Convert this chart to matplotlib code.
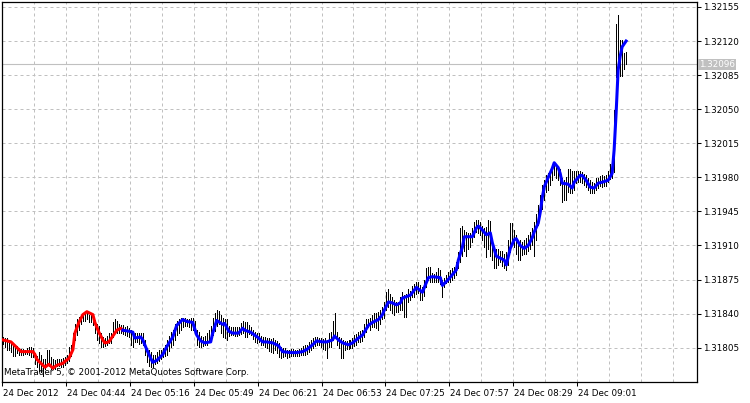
import matplotlib
matplotlib.use('Agg')
import matplotlib.pyplot as plt
import matplotlib.transforms as mtransforms
import numpy as np

# M1 bars, minutes counted from the first bar on screen (even and odd minutes)
even_min = np.arange(0, 313, 2)
even_high = [1.31816, 1.31815, 1.31811, 1.31808, 1.31805, 1.31804, 1.31805, 1.31806,
             1.31800, 1.31801, 1.31793, 1.31803, 1.31795, 1.31792, 1.31793, 1.31794,
             1.31798, 1.31808, 1.31829, 1.31837, 1.31841, 1.31842, 1.31840, 1.31833,
             1.31827, 1.31816, 1.31817, 1.31820, 1.31834, 1.31829, 1.31828, 1.31827,
             1.31823, 1.31820, 1.31820, 1.31820, 1.31805, 1.31801, 1.31798, 1.31803,
             1.31805, 1.31813, 1.31821, 1.31829, 1.31834, 1.31836, 1.31835, 1.31836,
             1.31832, 1.31821, 1.31816, 1.31820, 1.31827, 1.31841, 1.31843, 1.31836,
             1.31834, 1.31826, 1.31826, 1.31826, 1.31832, 1.31831, 1.31826, 1.31821,
             1.31820, 1.31816, 1.31815, 1.31814, 1.31813, 1.31810, 1.31805, 1.31803,
             1.31804, 1.31803, 1.31804, 1.31807, 1.31808, 1.31813, 1.31816, 1.31815,
             1.31814, 1.31813, 1.31821, 1.31841, 1.31816, 1.31813, 1.31812, 1.31813,
             1.31818, 1.31821, 1.31823, 1.31834, 1.31836, 1.31841, 1.31842, 1.31847,
             1.31862, 1.31860, 1.31854, 1.31852, 1.31862, 1.31860, 1.31863, 1.31870,
             1.31872, 1.31867, 1.31887, 1.31888, 1.31881, 1.31887, 1.31875, 1.31880,
             1.31885, 1.31888, 1.31903, 1.31930, 1.31924, 1.31923, 1.31934, 1.31936,
             1.31930, 1.31929, 1.31935, 1.31909, 1.31906, 1.31904, 1.31903, 1.31933,
             1.31926, 1.31916, 1.31914, 1.31918, 1.31924, 1.31934, 1.31952, 1.31972,
             1.31982, 1.31987, 1.31994, 1.31992, 1.31979, 1.31980, 1.31989, 1.31987,
             1.31987, 1.31985, 1.31982, 1.31977, 1.31974, 1.31979, 1.31982, 1.31982,
             1.31994, 1.32049, 1.32147, 1.32121, 1.32109]
even_low = [1.31809, 1.31803, 1.31801, 1.31796, 1.31798, 1.31798, 1.31799, 1.31795,
            1.31788, 1.31781, 1.31776, 1.31786, 1.31783, 1.31783, 1.31786, 1.31785,
            1.31789, 1.31796, 1.31813, 1.31823, 1.31832, 1.31834, 1.31831, 1.31820,
            1.31810, 1.31806, 1.31808, 1.31810, 1.31820, 1.31820, 1.31819, 1.31817,
            1.31808, 1.31811, 1.31809, 1.31808, 1.31790, 1.31785, 1.31788, 1.31791,
            1.31795, 1.31798, 1.31806, 1.31813, 1.31820, 1.31826, 1.31827, 1.31823,
            1.31820, 1.31806, 1.31807, 1.31808, 1.31813, 1.31822, 1.31829, 1.31816,
            1.31813, 1.31818, 1.31817, 1.31818, 1.31820, 1.31816, 1.31818, 1.31811,
            1.31811, 1.31808, 1.31805, 1.31801, 1.31803, 1.31795, 1.31795, 1.31794,
            1.31796, 1.31796, 1.31797, 1.31798, 1.31799, 1.31803, 1.31807, 1.31808,
            1.31804, 1.31794, 1.31806, 1.31816, 1.31805, 1.31794, 1.31804, 1.31805,
            1.31807, 1.31811, 1.31812, 1.31821, 1.31823, 1.31826, 1.31823, 1.31834,
            1.31844, 1.31844, 1.31839, 1.31842, 1.31844, 1.31837, 1.31854, 1.31857,
            1.31861, 1.31854, 1.31867, 1.31872, 1.31872, 1.31872, 1.31857, 1.31871,
            1.31872, 1.31877, 1.31887, 1.31899, 1.31899, 1.31908, 1.31919, 1.31923,
            1.31916, 1.31898, 1.31899, 1.31887, 1.31890, 1.31889, 1.31885, 1.31903,
            1.31908, 1.31895, 1.31900, 1.31901, 1.31906, 1.31899, 1.31931, 1.31947,
            1.31965, 1.31972, 1.31982, 1.31977, 1.31955, 1.31957, 1.31964, 1.31967,
            1.31975, 1.31974, 1.31970, 1.31964, 1.31964, 1.31969, 1.31970, 1.31971,
            1.31978, 1.31985, 1.32078, 1.32084, 1.32096]
odd_min = np.arange(1, 312, 2)
odd_high = [1.31815, 1.31813, 1.31810, 1.31807, 1.31804, 1.31803, 1.31806, 1.31805,
            1.31796, 1.31798, 1.31793, 1.31803, 1.31793, 1.31793, 1.31793, 1.31795,
            1.31806, 1.31820, 1.31834, 1.31839, 1.31841, 1.31839, 1.31838, 1.31829,
            1.31820, 1.31815, 1.31820, 1.31831, 1.31832, 1.31828, 1.31826, 1.31825,
            1.31821, 1.31820, 1.31820, 1.31813, 1.31803, 1.31798, 1.31801, 1.31803,
            1.31808, 1.31817, 1.31823, 1.31832, 1.31836, 1.31836, 1.31835, 1.31836,
            1.31823, 1.31817, 1.31817, 1.31823, 1.31836, 1.31844, 1.31839, 1.31834,
            1.31827, 1.31826, 1.31826, 1.31830, 1.31831, 1.31828, 1.31823, 1.31820,
            1.31817, 1.31816, 1.31815, 1.31815, 1.31812, 1.31806, 1.31805, 1.31803,
            1.31804, 1.31803, 1.31805, 1.31808, 1.31811, 1.31815, 1.31816, 1.31815,
            1.31815, 1.31820, 1.31832, 1.31821, 1.31815, 1.31812, 1.31813, 1.31815,
            1.31819, 1.31822, 1.31829, 1.31834, 1.31839, 1.31841, 1.31844, 1.31852,
            1.31865, 1.31857, 1.31852, 1.31857, 1.31859, 1.31865, 1.31868, 1.31873,
            1.31869, 1.31875, 1.31888, 1.31882, 1.31883, 1.31885, 1.31877, 1.31883,
            1.31887, 1.31893, 1.31928, 1.31926, 1.31923, 1.31928, 1.31936, 1.31934,
            1.31928, 1.31936, 1.31916, 1.31906, 1.31904, 1.31901, 1.31916, 1.31933,
            1.31921, 1.31916, 1.31916, 1.31921, 1.31928, 1.31942, 1.31962, 1.31977,
            1.31984, 1.31992, 1.31994, 1.31989, 1.31977, 1.31989, 1.31987, 1.31987,
            1.31987, 1.31983, 1.31979, 1.31975, 1.31979, 1.31981, 1.31981, 1.31987,
            1.31995, 1.32138, 1.32121, 1.32108]
odd_low = [1.31806, 1.31803, 1.31796, 1.31800, 1.31798, 1.31799, 1.31798, 1.31795,
           1.31785, 1.31780, 1.31783, 1.31786, 1.31783, 1.31786, 1.31785, 1.31787,
           1.31791, 1.31806, 1.31818, 1.31829, 1.31832, 1.31831, 1.31828, 1.31813,
           1.31806, 1.31807, 1.31810, 1.31816, 1.31820, 1.31820, 1.31818, 1.31816,
           1.31806, 1.31811, 1.31810, 1.31798, 1.31786, 1.31785, 1.31789, 1.31793,
           1.31796, 1.31802, 1.31808, 1.31818, 1.31823, 1.31827, 1.31826, 1.31823,
           1.31808, 1.31806, 1.31808, 1.31811, 1.31818, 1.31827, 1.31820, 1.31815,
           1.31817, 1.31818, 1.31817, 1.31819, 1.31816, 1.31819, 1.31814, 1.31810,
           1.31808, 1.31806, 1.31802, 1.31800, 1.31800, 1.31794, 1.31796, 1.31795,
           1.31797, 1.31797, 1.31798, 1.31798, 1.31801, 1.31805, 1.31808, 1.31806,
           1.31803, 1.31806, 1.31813, 1.31808, 1.31794, 1.31803, 1.31804, 1.31805,
           1.31808, 1.31811, 1.31816, 1.31826, 1.31826, 1.31825, 1.31829, 1.31836,
           1.31847, 1.31841, 1.31842, 1.31844, 1.31837, 1.31852, 1.31857, 1.31860,
           1.31854, 1.31858, 1.31875, 1.31872, 1.31873, 1.31870, 1.31867, 1.31873,
           1.31875, 1.31880, 1.31893, 1.31904, 1.31906, 1.31914, 1.31924, 1.31921,
           1.31908, 1.31906, 1.31895, 1.31887, 1.31893, 1.31887, 1.31890, 1.31911,
           1.31901, 1.31895, 1.31901, 1.31904, 1.31911, 1.31916, 1.31940, 1.31957,
           1.31967, 1.31977, 1.31979, 1.31972, 1.31957, 1.31965, 1.31964, 1.31974,
           1.31975, 1.31972, 1.31967, 1.31964, 1.31967, 1.31971, 1.31971, 1.31975,
           1.31979, 1.32083, 1.32084, 1.32091]

# indicator line (read at uneven points), red before the switch, blue after
line_min = [0, 4, 5, 8, 9, 15, 16, 17, 20, 21, 23, 25, 27, 30, 31, 33, 35, 36, 38, 40,
            42, 45, 46, 48, 50, 51, 53, 55, 57, 59, 60, 63, 65, 66, 69, 70, 72, 74, 75, 77,
            80, 82, 85, 87, 90, 92, 95, 97, 99, 101, 104, 105, 107, 110, 111, 113, 115, 118,
            120, 121, 124, 126, 128, 130, 132, 135, 138, 140, 144, 147, 150, 152, 155, 157,
            160, 162, 165, 166, 168, 170, 173, 175, 178, 180, 183, 185, 188, 190, 191, 193,
            195, 197, 199, 200, 204, 207, 210, 211, 213, 215, 219, 220, 222, 225, 227, 228,
            230, 231, 233, 235, 237, 238, 240, 242, 244, 245, 247, 249, 251, 252, 254, 256,
            257, 259, 261, 263, 265, 266, 268, 269, 270, 271, 273, 275, 276, 278, 279, 280,
            283, 285, 286, 289, 290, 292, 294, 296, 298, 300, 303, 305, 306, 307, 308, 309,
            310, 312]
line_val = [1.31813, 1.31811, 1.31809, 1.31803, 1.31801, 1.31801, 1.31798, 1.31793,
            1.31787, 1.31785, 1.31788, 1.31784, 1.31787, 1.31789, 1.31791, 1.31794,
            1.31803, 1.31820, 1.31831, 1.31839, 1.31842, 1.31839, 1.31831, 1.31821,
            1.31813, 1.31810, 1.31811, 1.31817, 1.31823, 1.31825, 1.31823, 1.31822,
            1.31821, 1.31815, 1.31816, 1.31813, 1.31803, 1.31794, 1.31790, 1.31792,
            1.31798, 1.31806, 1.31816, 1.31828, 1.31834, 1.31832, 1.31831, 1.31818,
            1.31812, 1.31810, 1.31811, 1.31820, 1.31833, 1.31829, 1.31830, 1.31822,
            1.31820, 1.31820, 1.31825, 1.31823, 1.31821, 1.31818, 1.31815, 1.31811,
            1.31811, 1.31810, 1.31807, 1.31801, 1.31800, 1.31800, 1.31801, 1.31803,
            1.31808, 1.31812, 1.31811, 1.31811, 1.31813, 1.31817, 1.31813, 1.31810,
            1.31808, 1.31810, 1.31815, 1.31818, 1.31828, 1.31831, 1.31834, 1.31839,
            1.31844, 1.31852, 1.31851, 1.31849, 1.31851, 1.31856, 1.31859, 1.31867,
            1.31862, 1.31867, 1.31877, 1.31878, 1.31877, 1.31869, 1.31873, 1.31880,
            1.31885, 1.31895, 1.31908, 1.31919, 1.31919, 1.31919, 1.31928, 1.31930,
            1.31926, 1.31921, 1.31923, 1.31913, 1.31899, 1.31897, 1.31895, 1.31890,
            1.31907, 1.31916, 1.31917, 1.31910, 1.31907, 1.31910, 1.31918, 1.31924,
            1.31933, 1.31944, 1.31959, 1.31970, 1.31980, 1.31989, 1.31995, 1.31990,
            1.31984, 1.31974, 1.31973, 1.31969, 1.31975, 1.31982, 1.31982, 1.31977,
            1.31970, 1.31969, 1.31974, 1.31975, 1.31977, 1.31984, 1.32008, 1.32046,
            1.32090, 1.32104, 1.32114, 1.32120]
red_until = 60

last_price = 1.32096
price_ticks = [1.31805, 1.31840, 1.31875, 1.31910, 1.31945, 1.31980,
               1.32015, 1.32050, 1.32085, 1.32120, 1.32155]
time_ticks = [0, 32, 64, 96, 128, 160, 192, 224, 256, 288]
time_labels = ['24 Dec 2012', '24 Dec 04:44', '24 Dec 05:16', '24 Dec 05:49',
               '24 Dec 06:21', '24 Dec 06:53', '24 Dec 07:25', '24 Dec 07:57',
               '24 Dec 08:29', '24 Dec 09:01']

plt.rcParams['font.family'] = ['DejaVu Sans']
fsz = 6.3
grid_c = '#c0c0c0'

fig = plt.figure(figsize=(7.5, 4.03), dpi=100)
ax = fig.add_axes([2/750, 21/403, 695/750, 380/403])
ax.set_xlim(0, 348)
ax.set_ylim(1.317698, 1.321601)

bar_min = np.concatenate([even_min, odd_min]) + 0.5
bar_high = np.concatenate([even_high, odd_high])
bar_low = np.concatenate([even_low, odd_low])
ax.vlines(bar_min, bar_low, bar_high, color='black', linewidth=0.6, antialiased=False, zorder=3)

lm = np.array(line_min) + 0.5
lv = np.array(line_val)
red = np.array(line_min) <= red_until
blue = np.array(line_min) >= red_until
ax.plot(lm[red], lv[red], color='#ff0000', lw=2.2, zorder=4, solid_joinstyle='round')
ax.plot(lm[blue], lv[blue], color='#0000ff', lw=2.2, zorder=4, solid_joinstyle='round')

ax.axhline(last_price, color=grid_c, lw=0.8, zorder=2)

# grid
ax.set_xticks(time_ticks)
ax.set_xticklabels(time_labels, fontsize=fsz)
ax.set_xticks(np.arange(16, 348, 16), minor=True)
ax.set_yticks(price_ticks)
ax.set_yticklabels(['%.5f' % p for p in price_ticks], fontsize=fsz)
ax.grid(True, which='both', color=grid_c, linestyle=(0, (3.0, 3.0)), lw=0.72, zorder=1)
ax.yaxis.tick_right()
ax.tick_params(axis='y', direction='out', length=3, width=0.75, pad=1.5)
ax.tick_params(axis='x', which='major', direction='out', length=3, width=0.75, pad=2)
ax.tick_params(axis='x', which='minor', length=0)
shift = mtransforms.ScaledTranslation(1/100, 0, fig.dpi_scale_trans)
for lab in ax.get_xticklabels():
    lab.set_horizontalalignment('left')
    lab.set_transform(lab.get_transform() + shift)
for s in ax.spines.values():
    s.set_linewidth(0.9)
    s.set_color('black')

# current price label
trans = mtransforms.blended_transform_factory(ax.transAxes, ax.transData)
ax.text(1.003, last_price, '%.5f' % last_price, transform=trans, fontsize=fsz,
        color='white', va='center', ha='left', clip_on=False,
        bbox=dict(boxstyle='square,pad=0.15', fc=grid_c, ec='none'), zorder=6)

ax.text(0.003, 0.012, 'MetaTrader 5, © 2001-2012 MetaQuotes Software Corp.',
        transform=ax.transAxes, fontsize=fsz, color='black', ha='left', va='bottom', zorder=5)

fig.savefig('out.png', dpi=100)
